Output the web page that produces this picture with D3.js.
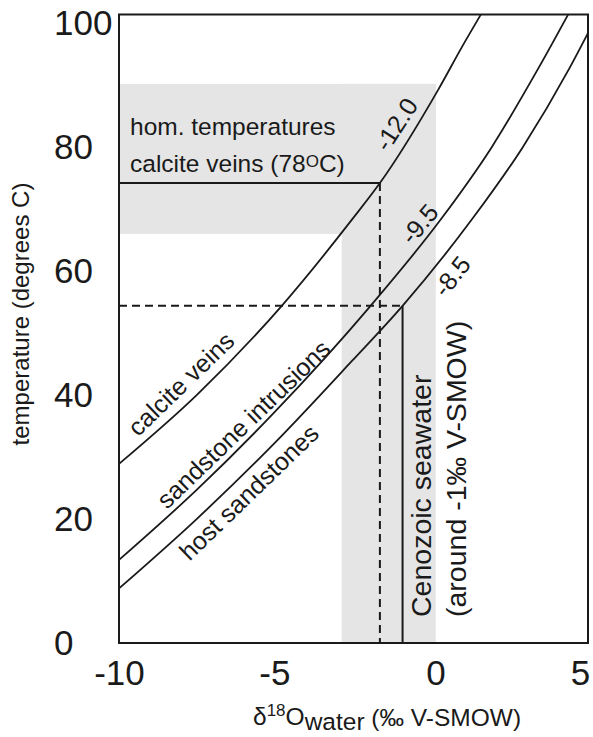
<!DOCTYPE html>
<html>
<head>
<meta charset="utf-8">
<script src="https://d3js.org/d3.v7.min.js"></script>
<style>
  body { margin: 0; background: #fff; }
  svg { font-family: "Liberation Sans", Arial, sans-serif; }
</style>
</head>
<body>
<script>
// tick labels
var xTicks = [-10, -5, 0, 5];
var yTicks = [0, 20, 40, 60, 80, 100];

// calcite - water curves: d18O water (x) against temperature (t)
var veinsX = [-10, -7.5, -4.76, -2.47, -1.6, 0.27, 1.08, 1.65];
var veinsT = [28.9, 40.0, 54.4, 68.5, 74.2, 89.2, 96.5, 101.4];
var intrusionsX = [-10, -7.5, -5, -1.9, 0.4, 2.0, 3.5, 4.46];
var intrusionsT = [13.4, 24.7, 37.2, 54.4, 68.6, 80.0, 92.7, 101.4];
var hostX = [-10, -7.5, -5, -2.5, -0.87, 1.4, 3.0, 4.5, 5.1];
var hostT = [8.8, 20.0, 32.2, 45.5, 54.4, 68.6, 80.0, 92.7, 98.4];

var curveNames = ["calcite veins", "sandstone intrusions", "host sandstones"];
var curveValues = ["-12.0", "-9.5", "-8.5"];

// homogenisation temperatures band and seawater band
var homBand = [66, 90.2];
var seawaterBand = [-2.83, 0.2];
var homTemp = 74.2;
var veinWater = -1.6;
var seawater = -0.87;
var seawaterTemp = 54.4;

window.onload = function() {

	// size of the picture and plot frame
	var w = 593;
	var h = 737;
	var leftEdge = 119;
	var rightEdge = 588;
	var topEdge = 14.5;
	var bottomEdge = 643;

	var x = d3.scaleLinear().domain([-10, 5.1]).range([leftEdge, rightEdge]);
	var y = d3.scaleLinear().domain([0, 101.4]).range([bottomEdge, topEdge]);

	var svg = d3.select("body")
	            .append("svg")
	            .attr("width", w)
	            .attr("height", h);

	svg.append("clipPath")
	   .attr("id", "frame")
	   .append("rect")
	   .attr("x", leftEdge)
	   .attr("y", topEdge)
	   .attr("width", rightEdge - leftEdge)
	   .attr("height", bottomEdge - topEdge);

	// grey bands
	svg.append("rect")
	   .attr("x", x(-10))
	   .attr("y", y(homBand[1]))
	   .attr("width", x(seawaterBand[1]) - x(-10))
	   .attr("height", y(homBand[0]) - y(homBand[1]))
	   .attr("fill", "#e5e5e5");
	svg.append("rect")
	   .attr("x", x(seawaterBand[0]))
	   .attr("y", y(homBand[1]))
	   .attr("width", x(seawaterBand[1]) - x(seawaterBand[0]))
	   .attr("height", y(0) - y(homBand[1]))
	   .attr("fill", "#e5e5e5");

	// guide lines
	var guides = [
		{x1: -10, t1: homTemp, x2: veinWater, t2: homTemp, dash: null},
		{x1: veinWater, t1: homTemp, x2: veinWater, t2: 0, dash: "8,5"},
		{x1: -10, t1: seawaterTemp, x2: seawater, t2: seawaterTemp, dash: "8,5"},
		{x1: seawater, t1: seawaterTemp, x2: seawater, t2: 0, dash: null}
	];
	svg.selectAll(".guide")
	   .data(guides)
	   .enter()
	   .append("line")
	   .attr("class", "guide")
	   .attr("x1", function(d) { return x(d.x1); })
	   .attr("y1", function(d) { return y(d.t1); })
	   .attr("x2", function(d) { return x(d.x2); })
	   .attr("y2", function(d) { return y(d.t2); })
	   .attr("stroke", "#1a1a1a")
	   .attr("stroke-width", 2)
	   .attr("stroke-dasharray", function(d) { return d.dash; });

	// curves
	var curves = [
		d3.zip(veinsX, veinsT),
		d3.zip(intrusionsX, intrusionsT),
		d3.zip(hostX, hostT)
	];
	var line = d3.line()
	             .x(function(d) { return x(d[0]); })
	             .y(function(d) { return y(d[1]); })
	             .curve(d3.curveMonotoneX);
	svg.selectAll(".curve")
	   .data(curves)
	   .enter()
	   .append("path")
	   .attr("class", "curve")
	   .attr("clip-path", "url(#frame)")
	   .attr("d", line)
	   .attr("fill", "none")
	   .attr("stroke", "#1a1a1a")
	   .attr("stroke-width", 1.8);

	// frame
	svg.append("rect")
	   .attr("x", leftEdge)
	   .attr("y", topEdge)
	   .attr("width", rightEdge - leftEdge)
	   .attr("height", bottomEdge - topEdge)
	   .attr("fill", "none")
	   .attr("stroke", "#1a1a1a")
	   .attr("stroke-width", 2);

	// axes, labels only (plain hyphen for the minus like the original)
	var xAxis = d3.axisBottom(x).tickValues(xTicks).tickSize(0).tickPadding(17)
	              .tickFormat(function(d) { return String(d); });
	var gx = svg.append("g")
	            .attr("transform", "translate(0," + bottomEdge + ")")
	            .call(xAxis);
	var yAxis = d3.axisLeft(y).tickValues(yTicks).tickSize(0);
	var gy = svg.append("g")
	            .attr("transform", "translate(" + leftEdge + ",0)")
	            .call(yAxis);
	svg.selectAll(".domain").remove();
	svg.selectAll(".tick text")
	   .attr("font-family", "Liberation Sans, Arial, sans-serif")
	   .attr("font-size", 35)
	   .attr("fill", "#1a1a1a");
	gy.selectAll(".tick text")
	  .attr("text-anchor", "start")
	  .attr("x", 54 - leftEdge);
	// the hand drawn labels sit a little off the scale near the right
	gx.selectAll(".tick text")
	  .attr("dx", function(d) { return d == 0 ? 6 : (d == 5 ? -5 : 0); });

	// curve names along the curves
	var nameSpots = [[-7.81, 40.8], [-5.80, 34.3], [-5.62, 23.3]];
	svg.selectAll(".curveName")
	   .data(curveNames)
	   .enter()
	   .append("text")
	   .attr("class", "curveName")
	   .attr("transform", function(d, i) {
	   		return "translate(" + x(nameSpots[i][0]) + "," + y(nameSpots[i][1]) + ") rotate(-44)";
	   })
	   .attr("text-anchor", "middle")
	   .attr("font-size", 25)
	   .attr("fill", "#1a1a1a")
	   .text(function(d) { return d; });

	// calcite values near the top of the curves
	var valueSpots = [[-0.84, 82.9, -57], [-0.11, 66.7, -50], [0.94, 58.3, -52]];
	svg.selectAll(".curveValue")
	   .data(curveValues)
	   .enter()
	   .append("text")
	   .attr("class", "curveValue")
	   .attr("transform", function(d, i) {
	   		return "translate(" + x(valueSpots[i][0]) + "," + y(valueSpots[i][1]) + ") rotate(" + valueSpots[i][2] + ")";
	   })
	   .attr("text-anchor", "middle")
	   .attr("font-size", 25)
	   .attr("fill", "#1a1a1a")
	   .text(function(d) { return d; });

	// homogenisation temperature note
	svg.append("text")
	   .attr("x", 130)
	   .attr("y", 135)
	   .attr("font-size", 24.5)
	   .attr("fill", "#1a1a1a")
	   .text("hom. temperatures");
	var note = svg.append("text")
	              .attr("x", 130)
	              .attr("y", 171.5)
	              .attr("font-size", 24.5)
	              .attr("fill", "#1a1a1a");
	note.append("tspan").text("calcite veins (78");
	note.append("tspan").attr("font-size", 17).attr("dy", -5).text("O");
	note.append("tspan").attr("dy", 5).text("C)");

	// seawater note, vertical
	var seaNotes = ["Cenozoic seawater", "(around -1\u2030 V-SMOW)"];
	var seaSpots = [0.05, 1.17];
	svg.selectAll(".seaNote")
	   .data(seaNotes)
	   .enter()
	   .append("text")
	   .attr("class", "seaNote")
	   .attr("transform", function(d, i) {
	   		return "translate(" + x(seaSpots[i]) + "," + y(4.2) + ") rotate(-90)";
	   })
	   .attr("font-size", 28.5)
	   .attr("fill", "#1a1a1a")
	   .text(function(d) { return d; });

	// y axis title
	svg.append("text")
	   .attr("transform", "translate(29," + 314 + ") rotate(-90)")
	   .attr("text-anchor", "middle")
	   .attr("font-size", 24)
	   .attr("fill", "#1a1a1a")
	   .text("temperature (degrees C)");

	// x axis title
	var xTitle = svg.append("text")
	                .attr("x", 253)
	                .attr("y", 725)
	                .attr("font-size", 24.5)
	                .attr("fill", "#1a1a1a");
	xTitle.append("tspan").text("\u03b4");
	xTitle.append("tspan").attr("font-size", 17).attr("dy", -9).text("18");
	xTitle.append("tspan").attr("dy", 9).text("O");
	xTitle.append("tspan").attr("dy", 5).text("water");
	xTitle.append("tspan").attr("dy", -4).text(" (\u2030 V-SMOW)");
};
</script>
</body>
</html>
